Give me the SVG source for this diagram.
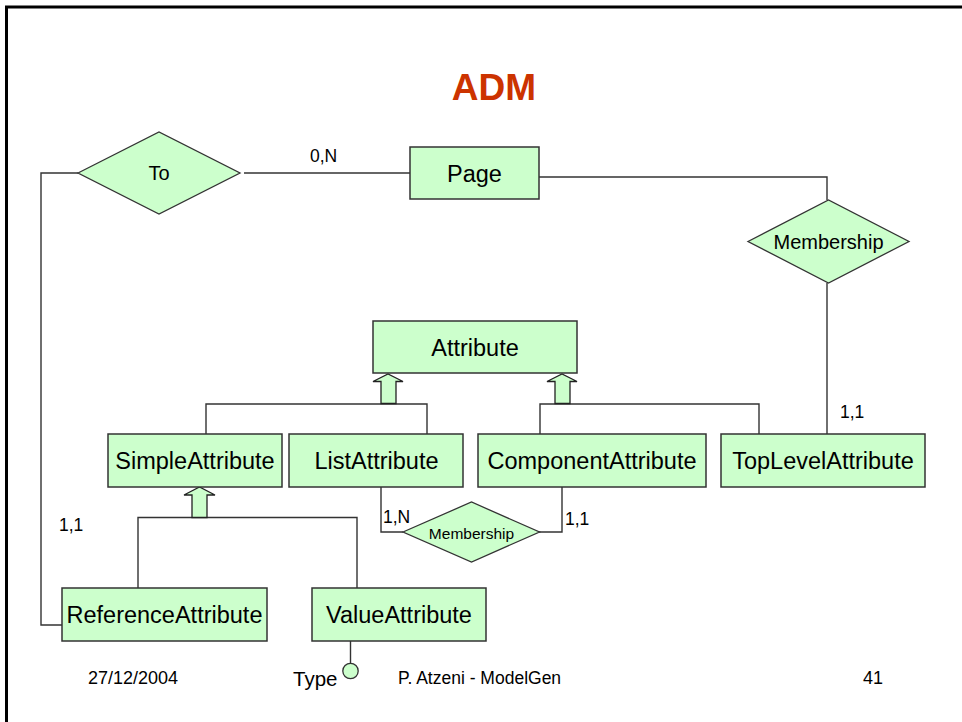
<svg xmlns="http://www.w3.org/2000/svg" width="962" height="722" viewBox="0 0 962 722">
<style>
.ent{fill:#ccffcc;stroke:#333;stroke-width:1.5}
.rel{fill:#ccffcc;stroke:#333;stroke-width:1.3}
.isa{fill:#ccffcc;stroke:#222;stroke-width:1.3}
.ln{fill:none;stroke:#333;stroke-width:1.4}
text{font-family:"Liberation Sans",Arial,sans-serif;fill:#000}
.el{font-size:23.5px;text-anchor:middle}
.rl{font-size:20px;text-anchor:middle}
.card{font-size:17.5px}
.ft{font-size:18px}
</style>
<rect width="962" height="722" fill="#fff"/>
<path d="M6.5 722 V7 H962" fill="none" stroke="#000" stroke-width="3"/>
<text x="494" y="100" font-size="37" font-weight="bold" text-anchor="middle" style="fill:#cc3300">ADM</text>
<g id="connectors">
<path class="ln" d="M78 173 H41 V625 H62"/>
<path class="ln" d="M244 173 H410"/>
<path class="ln" d="M539 177 H827 V200"/>
<path class="ln" d="M827 283 V434"/>
<path class="ln" d="M206 434 V404 H427 V434"/>
<path class="ln" d="M540 434 V404 H759 V434"/>
<path class="ln" d="M138 588 V517.5 H357 V588"/>
<path class="ln" d="M381 487 V532 H403"/>
<path class="ln" d="M562 487 V532 H539"/>
<path class="ln" d="M350.5 641 V663"/>
<polygon class="isa" points="381,403.5 381,381.5 373,381.5 388,374 403,381.5 396,381.5 396,403.5"/>
<polygon class="isa" points="555,403.5 555,381.5 547,381.5 562,374 577,381.5 570,381.5 570,403.5"/>
<polygon class="isa" points="192,517.5 192,495 184,495 199.5,487 215,495 207,495 207,517.5"/>
<text class="card" x="310" y="162">0,N</text>
<text class="card" x="840" y="418">1,1</text>
<text class="card" x="59" y="531">1,1</text>
<text class="card" x="383" y="523">1,N</text>
<text class="card" x="565" y="525">1,1</text>
</g>
<g id="to"><polygon class="rel" points="78,173 159,132 240,173 159,214"/><text class="rl" x="159" y="180">To</text></g>
<g id="page"><rect class="ent" x="410" y="147" width="129" height="52"/><text class="el" x="474.5" y="181.5">Page</text></g>
<g id="membership1"><polygon class="rel" points="748,241.5 828.5,200 909,241.5 828.5,283"/><text class="rl" x="828.5" y="248.5">Membership</text></g>
<g id="attribute"><rect class="ent" x="373" y="321" width="204" height="52"/><text class="el" x="475" y="355.5">Attribute</text></g>
<g id="simpleattribute"><rect class="ent" x="108" y="434" width="174" height="53"/><text class="el" x="195" y="469">SimpleAttribute</text></g>
<g id="listattribute"><rect class="ent" x="289" y="434" width="174" height="53"/><text class="el" x="376.5" y="469">ListAttribute</text></g>
<g id="componentattribute"><rect class="ent" x="478" y="434" width="228" height="53"/><text class="el" x="592" y="469">ComponentAttribute</text></g>
<g id="toplevelattribute"><rect class="ent" x="721" y="434" width="204" height="53"/><text class="el" x="823" y="469">TopLevelAttribute</text></g>
<g id="membership2"><polygon class="rel" points="403,532 471.5,502 539.5,532 471.5,562"/><text x="471.5" y="538.5" font-size="15.5" text-anchor="middle">Membership</text></g>
<g id="referenceattribute"><rect class="ent" x="62" y="588" width="205" height="53"/><text class="el" x="164.5" y="623">ReferenceAttribute</text></g>
<g id="valueattribute"><rect class="ent" x="312" y="588" width="174" height="53"/><text class="el" x="399" y="623">ValueAttribute</text></g>
<g id="type"><circle class="rel" cx="350.5" cy="671" r="7.7"/><text x="293" y="686" font-size="20.5">Type</text></g>
<g id="footer">
<text class="ft" x="88" y="684">27/12/2004</text>
<text x="398" y="684" font-size="17.5">P. Atzeni - ModelGen</text>
<text class="ft" x="863" y="684">41</text>
</g>
</svg>
